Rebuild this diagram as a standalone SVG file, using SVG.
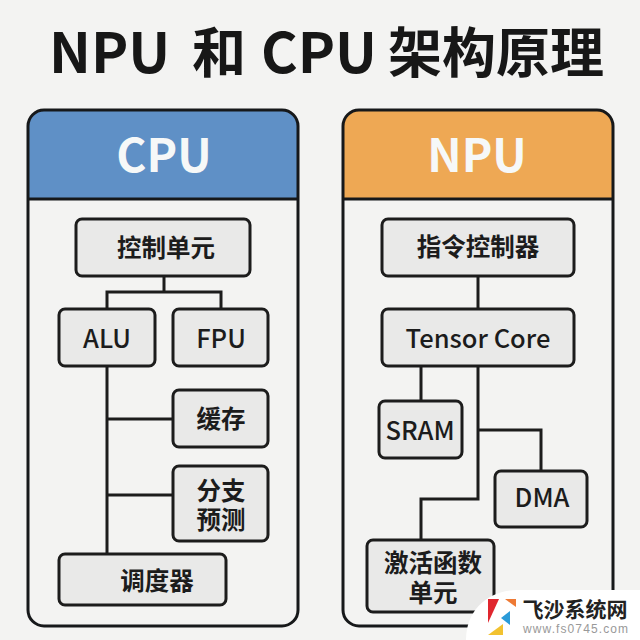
<svg xmlns="http://www.w3.org/2000/svg" width="640" height="640" viewBox="0 0 640 640">
<style>
text{font-family:"Noto Sans CJK SC","Noto Sans",sans-serif;text-anchor:middle;fill:#1c1c1c;font-weight:700}
.t{font-size:54px;fill:#171717;text-anchor:start}
.tl{font-size:56px}
.h{font-size:46px;fill:#f6f8f8;font-weight:700}
.l{font-size:25.500px;font-weight:500}
.c{font-size:24.500px}
.m{font-family:"Liberation Sans","Noto Sans CJK SC",sans-serif}
.box{fill:#e9e9e8;stroke:#1c1c1c;stroke-width:3}
.panel{fill:none;stroke:#16181a;stroke-width:3}
.conn{fill:none;stroke:#1c1c1c;stroke-width:3}
</style>
<rect width="640" height="640" fill="#f3f3f2"/>
<g id="title"><text class="t" y="73"><tspan class="tl" x="49">NPU</tspan><tspan x="192">和</tspan><tspan class="tl" x="261">CPU</tspan><tspan x="388">架构原理</tspan></text></g>
<g id="cpu-panel">
<path d="M28 199V126a16 16 0 0 1 16-16H282a16 16 0 0 1 16 16V199Z" fill="#5f90c6"/>
<line x1="28" y1="199" x2="298" y2="199" class="panel"/>
<rect x="28" y="110" width="270" height="516" rx="16" class="panel"/>
<text class="h" x="164" y="172">CPU</text>
</g>
<g id="npu-panel">
<path d="M343 199V126a16 16 0 0 1 16-16H597a16 16 0 0 1 16 16V199Z" fill="#eea854"/>
<line x1="343" y1="199" x2="613" y2="199" class="panel"/>
<rect x="343" y="110" width="270" height="516" rx="16" class="panel"/>
<text class="h" x="477" y="172">NPU</text>
</g>
<g id="connectors" class="conn">
<path d="M164 276V292M107 309V292H221V309"/>
<path d="M107 366V553M107 419H174M107 495H174"/>
<path d="M478 276V309"/>
<path d="M421 366V401M478 366V499H421V540M478 430H541V471"/>
</g>
<g id="node-control"><rect class="box" x="76" y="219" width="174" height="57" rx="6"/><text class="c" x="166" y="257">控制单元</text></g>
<g id="node-alu"><rect class="box" x="59" y="309" width="96" height="57" rx="6"/><text class="l" x="107" y="348">ALU</text></g>
<g id="node-fpu"><rect class="box" x="173" y="309" width="95" height="57" rx="6"/><text class="l" x="221" y="348">FPU</text></g>
<g id="node-cache"><rect class="box" x="173" y="390" width="95" height="57" rx="6"/><text class="c" x="221" y="428">缓存</text></g>
<g id="node-branch"><rect class="box" x="173" y="466" width="95" height="75" rx="6"/><text class="c m"><tspan x="221" y="500">分支</tspan></text><text class="c m"><tspan x="221" y="529">预测</tspan></text></g>
<g id="node-scheduler"><rect class="box" x="59" y="554" width="167" height="51" rx="6"/><text class="c" x="157" y="590">调度器</text></g>
<g id="node-instr"><rect class="box" x="382" y="219" width="192" height="57" rx="6"/><text class="c" x="478" y="256">指令控制器</text></g>
<g id="node-tensor"><rect class="box" x="382" y="309" width="192" height="57" rx="6"/><text class="l" x="478" y="348">Tensor Core</text></g>
<g id="node-sram"><rect class="box" x="379" y="401" width="83" height="57" rx="6"/><text class="l" x="420" y="440">SRAM</text></g>
<g id="node-dma"><rect class="box" x="495" y="471" width="92" height="56" rx="6"/><text class="l" x="542" y="507">DMA</text></g>
<g id="node-activation"><rect class="box" x="367" y="540" width="127" height="72" rx="6"/><text class="c m"><tspan x="433" y="572">激活函数</tspan></text><text class="c m"><tspan x="433" y="602">单元</tspan></text></g>
<g id="watermark">
<path d="M466 640C466 610 488 590 518 590H640V640Z" fill="#fff"/>
<polygon points="488,599 499,599 488,623" fill="#e0262e"/>
<polygon points="505,599 516,599 516,607" fill="#ee7a35"/>
<polygon points="510,611 510,625 501,618" fill="#2b9bd8"/>
<polygon points="503,624 503,635 488,635" fill="#f2c230"/>
<text x="575" y="617" style="font-size:21px;fill:#222">飞沙系统网</text>
<text x="575.500" y="633" textLength="105" style="font-family:'Liberation Sans',sans-serif;font-size:12px;fill:#999;font-weight:400">www.fs0745.com</text>
</g>
</svg>
